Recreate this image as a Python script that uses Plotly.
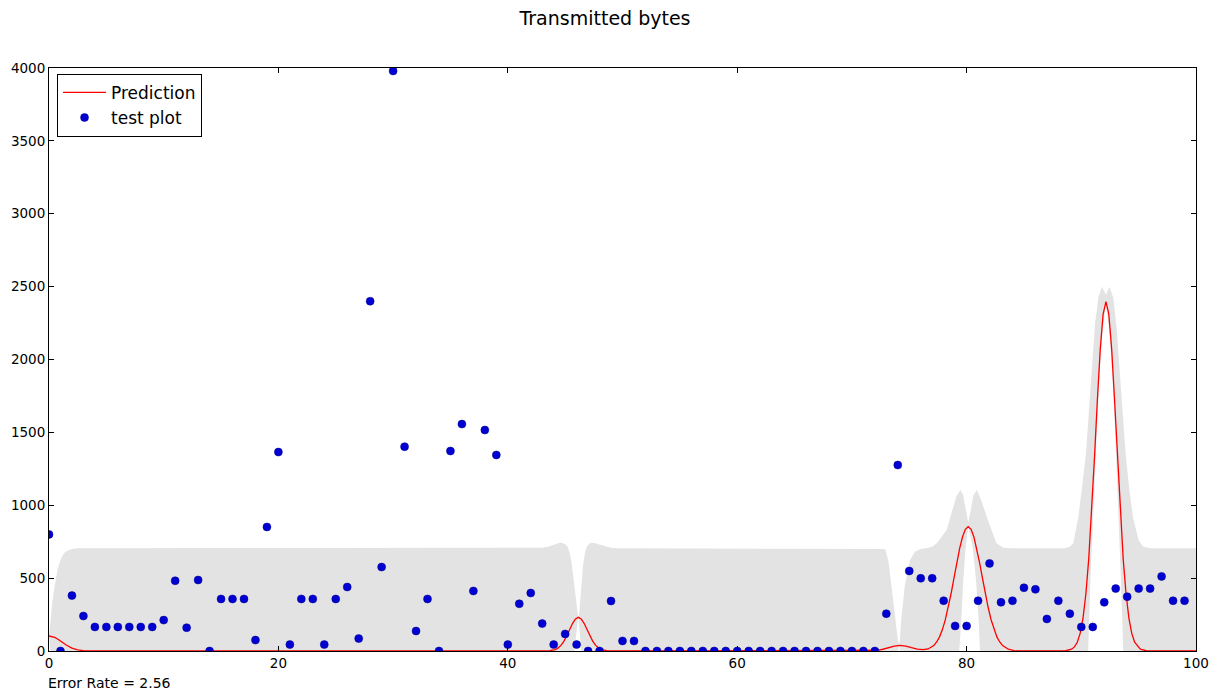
import plotly.graph_objects as go

# ---- test data (observed points) ----
TEST_X = list(range(100))
TEST_Y = [800, 0, 380, 240, 165, 165, 165, 165, 165, 165,
          212, 482, 160, 487, 0, 357, 357, 357, 75, 851,
          1365, 44, 357, 357, 44, 357, 439, 85, 2400, 576,
          3980, 1402, 137, 357, 0, 1372, 1557, 412, 1516, 1345,
          44, 324, 398, 188, 44, 117, 44, 0, 0, 343,
          69, 69, 0, 0, 0, 0, 0, 0, 0, 0,
          0, 0, 0, 0, 0, 0, 0, 0, 0, 0,
          0, 0, 0, 256, 1276, 549, 499, 499, 345, 172,
          172, 345, 601, 334, 345, 434, 423, 220, 345, 256,
          165, 165, 334, 428, 373, 428, 428, 512, 345, 345]

# ---- prediction (mean) curve ----
PRED_X = [0, 0.25, 0.5, 0.75, 1, 1.25, 1.5, 2, 2.5, 3, 3.5, 4,
          43.15, 43.65, 44.15, 44.4, 44.65, 44.9, 45.15, 45.4, 45.65, 45.9, 46.15,
          46.4, 46.65, 46.9, 47.15, 47.4, 47.65, 47.9, 48.15, 48.65, 49.15,
          71.5, 72.2, 72.7, 73.2, 73.7, 74.2, 74.7, 75.2, 75.7, 76.2, 76.64,
          77.14, 77.39, 77.64, 77.89, 78.14, 78.39, 78.64, 78.89, 79.14, 79.39, 79.64, 79.89, 80.14,
          80.39, 80.64, 80.89, 81.14, 81.39, 81.64, 81.89, 82.14, 82.39, 82.64, 82.89, 83.14, 83.64, 84.14, 84.64,
          88.15, 88.65, 89.15, 89.4, 89.65, 89.9, 90.15, 90.4, 90.65, 90.9, 91.15, 91.4, 91.65, 91.9, 92.15,
          92.4, 92.65, 92.9, 93.15, 93.4, 93.65, 93.9, 94.15, 94.4, 94.65, 95.15, 95.65, 96.15, 100]
PRED_Y = [103, 100, 93, 82, 68, 54, 41, 20, 8, 2.5, 0.6, 0,
          0, 2, 10, 21, 40, 68, 106, 149, 190, 220, 231,
          220, 190, 149, 106, 68, 40, 21, 10, 2, 0,
          0, 5, 12, 23, 34, 38, 34, 23, 13, 9, 14,
          37, 62, 97, 147, 213, 295, 391, 496, 603, 702, 782, 835, 853,
          835, 782, 702, 603, 496, 391, 295, 213, 147, 97, 62, 37, 12, 3, 0,
          0, 2, 12, 28, 60, 121, 226, 393, 634, 953, 1328, 1720, 2068, 2310, 2397,
          2310, 2068, 1720, 1328, 953, 634, 393, 226, 121, 60, 12, 2, 0, 0]

# ---- confidence band: upper edge ----
UP_X = [0, 0.15, 0.3, 0.5, 0.75, 1.0, 1.25, 1.5, 2.0, 2.5,
        42.5, 43, 43.5, 44, 44.4, 44.7, 45.0, 45.22, 45.4, 45.57, 45.75, 45.92, 46.09, 46.15,
        46.22, 46.35, 46.5, 46.58, 46.75, 46.88, 47.1, 47.3, 47.6, 48, 48.5, 49, 49.5,
        72.5, 72.9, 73.2, 73.45, 73.74, 74.0, 74.15, 74.3, 74.6, 75.07, 75.5, 76.0, 76.5,
        77.0, 77.4, 77.8, 78.26, 78.7, 79.1, 79.45, 79.7, 79.95, 80.14, 80.35, 80.6, 80.9,
        81.3, 81.75, 82.2, 82.6, 83.2, 83.8,
        88.5, 89.0, 89.3, 89.75, 90.1, 90.4, 90.8, 91.2, 91.5, 91.8, 92.15, 92.45, 92.8,
        93.1, 93.5, 93.9, 94.2, 94.5, 95.0, 95.4, 96, 100]
UP_Y = [103, 230, 340, 450, 560, 625, 663, 685, 700, 705,
        705, 708, 716, 730, 740, 742, 732, 716, 670, 601, 500, 373, 259, 232,
        255, 373, 500, 601, 680, 716, 735, 742, 740, 730, 716, 708, 705,
        705, 700, 610, 441, 235, 80, 40, 213, 441, 624, 681, 700, 705,
        716, 739, 780, 830, 950, 1059, 1105, 1070, 960, 880, 960, 1070, 1105,
        1030, 921, 820, 739, 709, 705,
        705, 715, 739, 922, 1150, 1350, 1800, 2250, 2430, 2500, 2445, 2500, 2420,
        2200, 1750, 1320, 1100, 920, 760, 715, 705, 705]

# ---- confidence band: lower edge ----
LO_X = [0, 0.15, 0.3, 0.5, 1.0, 2.0, 3.0,
        44.0, 45.0, 45.4, 45.57, 45.75, 45.92, 46.09, 46.15, 46.22, 46.35, 46.5, 46.58, 46.75, 47.1, 48.0,
        72.5, 73.2, 73.45, 73.74, 74.03, 74.15, 74.3, 74.6, 75.07, 75.5, 76.0,
        77.0, 77.5, 78.0, 78.5, 79.0, 79.36, 79.57, 79.71, 79.92, 80.14, 80.35, 80.53, 80.82, 81.02, 81.17,
        81.5, 82.0, 82.5, 83.0, 83.8,
        88.5, 89.5, 90.0, 90.3, 90.6, 90.8, 91.05, 91.3, 91.55, 91.8, 92.15, 92.5, 92.75, 93.0, 93.25,
        93.45, 93.66, 93.9, 94.5, 95.5, 96.0, 100]
LO_Y = [103, -26, -148, -264, -489, -660, -700,
        -705, -568, -372, -245, -92, 71, 201, 231, 205, 75, -84, -199, -316, -507, -700,
        -705, -564, -377, -167, -1, 36, -139, -371, -580, -660, -690,
        -705, -680, -600, -450, -250, 0, 259, 487, 716, 853, 780, 716, 487, 259, 0,
        -250, -450, -600, -680, -705,
        -705, -650, -450, -250, 0, 500, 950, 1400, 1850, 2150, 2390, 2150, 1850, 1400, 950,
        500, 0, -250, -500, -680, -705, -705]

X_TICKS = [0, 20, 40, 60, 80, 100]
Y_TICKS = [0, 500, 1000, 1500, 2000, 2500, 3000, 3500, 4000]

TITLE = "Transmitted bytes"
NOTE = "Error Rate = 2.56"

FONT = "DejaVu Sans"

band_x = UP_X + LO_X[::-1]
band_y = UP_Y + LO_Y[::-1]

fig = go.Figure()
fig.add_trace(go.Scatter(
    x=band_x, y=band_y, mode="lines", fill="toself",
    fillcolor="rgb(227,227,227)", line=dict(width=0, color="rgba(0,0,0,0)"),
    showlegend=False, hoverinfo="skip"))
fig.add_trace(go.Scatter(
    x=PRED_X, y=PRED_Y, mode="lines", name="Prediction",
    line=dict(color="rgb(255,0,0)", width=1.3)))
fig.add_trace(go.Scatter(
    x=TEST_X, y=TEST_Y, mode="markers", name="test plot",
    marker=dict(color="rgb(0,0,210)", size=8, line=dict(width=0.5, color="rgb(0,0,140)")),
    cliponaxis=True))

axis_common = dict(
    showgrid=False, zeroline=False, showline=True, linecolor="black", linewidth=1,
    mirror="ticks", ticks="inside", ticklen=5, tickcolor="black", tickwidth=1,
    tickfont=dict(family=FONT, size=13.5, color="black"),
)

fig.update_layout(
    width=1221, height=695,
    margin=dict(l=49, r=25, t=68, b=44),
    paper_bgcolor="white", plot_bgcolor="white",
    title=dict(text=TITLE, x=605 / 1221, xref="container", xanchor="center",
               y=1 - 18 / 695, yref="container", yanchor="middle",
               font=dict(family=FONT, size=19, color="black")),
    xaxis=dict(range=[0, 100], tickvals=X_TICKS, ticktext=[str(v) for v in X_TICKS], **axis_common),
    yaxis=dict(range=[0, 4000], tickvals=Y_TICKS, ticktext=[str(v) for v in Y_TICKS], **axis_common),
    legend=dict(x=0.007, y=0.99, xanchor="left", yanchor="top",
                itemwidth=43,
                bgcolor="white", bordercolor="black", borderwidth=1,
                font=dict(family=FONT, size=17, color="black")),
    annotations=[dict(text=NOTE, xref="paper", yref="paper", x=-3 / 1147, y=-(683 - 651) / 583,
                      xanchor="left", yanchor="middle", showarrow=False,
                      font=dict(family=FONT, size=14, color="black"))],
)

fig.write_html("out.html")
